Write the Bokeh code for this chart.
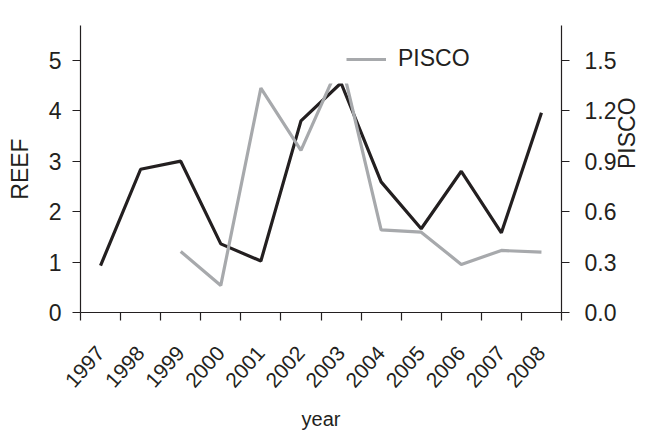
import math
from bokeh.plotting import figure
from bokeh.models import (Range1d, LinearAxis, FixedTicker, NumeralTickFormatter,
                          Legend, LegendItem, ColumnDataSource, BoxAnnotation)
from bokeh.embed import file_html
from bokeh.resources import INLINE

years = [1997, 1998, 1999, 2000, 2001, 2002, 2003, 2004, 2005, 2006, 2007, 2008]
reef = [0.93, 2.84, 3.00, 1.36, 1.02, 3.80, 4.55, 2.59, 1.66, 2.80, 1.58, 3.96]
pisco = [float("nan"), float("nan"), 0.363, 0.161, 1.335, 0.964, 1.50, 0.492, 0.478, 0.286, 0.369, 0.359]
reef_ticks = [0, 1, 2, 3, 4, 5]
pisco_ticks = [0.0, 0.3, 0.6, 0.9, 1.2, 1.5]

FONT = "Liberation Sans"
INK = "#231f20"
BLACK = "#231f20"
GRAY = "#a7a9ac"

mid = [y + 0.5 for y in years]
src = ColumnDataSource(dict(x=mid, reef=reef, pisco=pisco))

p = figure(width=657, height=432, output_backend="svg", toolbar_location=None,
           x_range=Range1d(years[0], years[-1] + 1), y_range=Range1d(0, 5.69),
           min_border_left=80, min_border_right=96, min_border_top=25, min_border_bottom=120)
p.extra_y_ranges = {"pisco": Range1d(0, 5.69 * 0.3)}
p.xaxis.visible = False
p.yaxis.visible = False
p.grid.visible = False
p.outline_line_color = None
p.background_fill_color = "white"
p.border_fill_color = "white"

def style_axis(ax, size="23px"):
    ax.axis_line_color = INK
    ax.axis_line_width = 1.2
    ax.major_tick_line_color = INK
    ax.major_tick_line_width = 1.2
    ax.major_tick_in = 0
    ax.major_tick_out = 8
    ax.minor_tick_line_color = None
    ax.major_label_text_font = FONT
    ax.major_label_text_font_size = size
    ax.major_label_text_color = INK
    ax.axis_label_text_font = FONT
    ax.axis_label_text_font_style = "normal"
    ax.axis_label_text_font_size = "23px"
    ax.axis_label_text_color = INK

# x axis: tick marks at year boundaries, labels at mid-year
xax = LinearAxis(ticker=FixedTicker(ticks=mid, minor_ticks=years + [years[-1] + 1]),
                 major_label_overrides={m: str(y) for m, y in zip(mid, years)},
                 axis_label="year")
style_axis(xax, "21px")
xax.major_tick_line_color = None
xax.major_tick_out = 0
xax.minor_tick_line_color = INK
xax.minor_tick_line_width = 1.2
xax.minor_tick_in = 0
xax.minor_tick_out = 8
xax.major_label_orientation = math.radians(48)
xax.major_label_standoff = 29
xax.axis_label_text_font_size = "20px"
xax.axis_label_standoff = 11
p.add_layout(xax, "below")

lax = LinearAxis(ticker=FixedTicker(ticks=reef_ticks), axis_label="REEF")
style_axis(lax)
lax.major_label_standoff = 11
lax.axis_label_standoff = 13
p.add_layout(lax, "left")

rax = LinearAxis(y_range_name="pisco", ticker=FixedTicker(ticks=pisco_ticks),
                 formatter=NumeralTickFormatter(format="0.0"), axis_label="PISCO")
style_axis(rax)
rax.major_label_standoff = 15
rax.axis_label_standoff = 8
rax.axis_label_orientation = math.pi / 2
p.add_layout(rax, "right")

r_reef = p.line("x", "reef", source=src, line_color=BLACK, line_width=3.2)
r_pisco = p.line("x", "pisco", source=src, line_color=GRAY, line_width=3.2,
                 y_range_name="pisco")

# white legend box covering the top of the lines (as in the reference)
p.add_layout(BoxAnnotation(left=246, right=402, bottom=229, top=290,
                           left_units="screen", right_units="screen",
                           bottom_units="screen", top_units="screen",
                           fill_color="white", fill_alpha=1.0, line_color=None))

leg = Legend(items=[LegendItem(label="PISCO", renderers=[r_pisco])],
             location=(266, 240), orientation="vertical",
             background_fill_alpha=0.0,
             border_line_color=None, padding=20, spacing=0, margin=0,
             glyph_width=40, glyph_height=12, label_height=12, label_standoff=12,
             label_text_font=FONT, label_text_font_size="23px", label_text_color=INK)
p.add_layout(leg)

open("out.html", "w").write(file_html(p, INLINE))
